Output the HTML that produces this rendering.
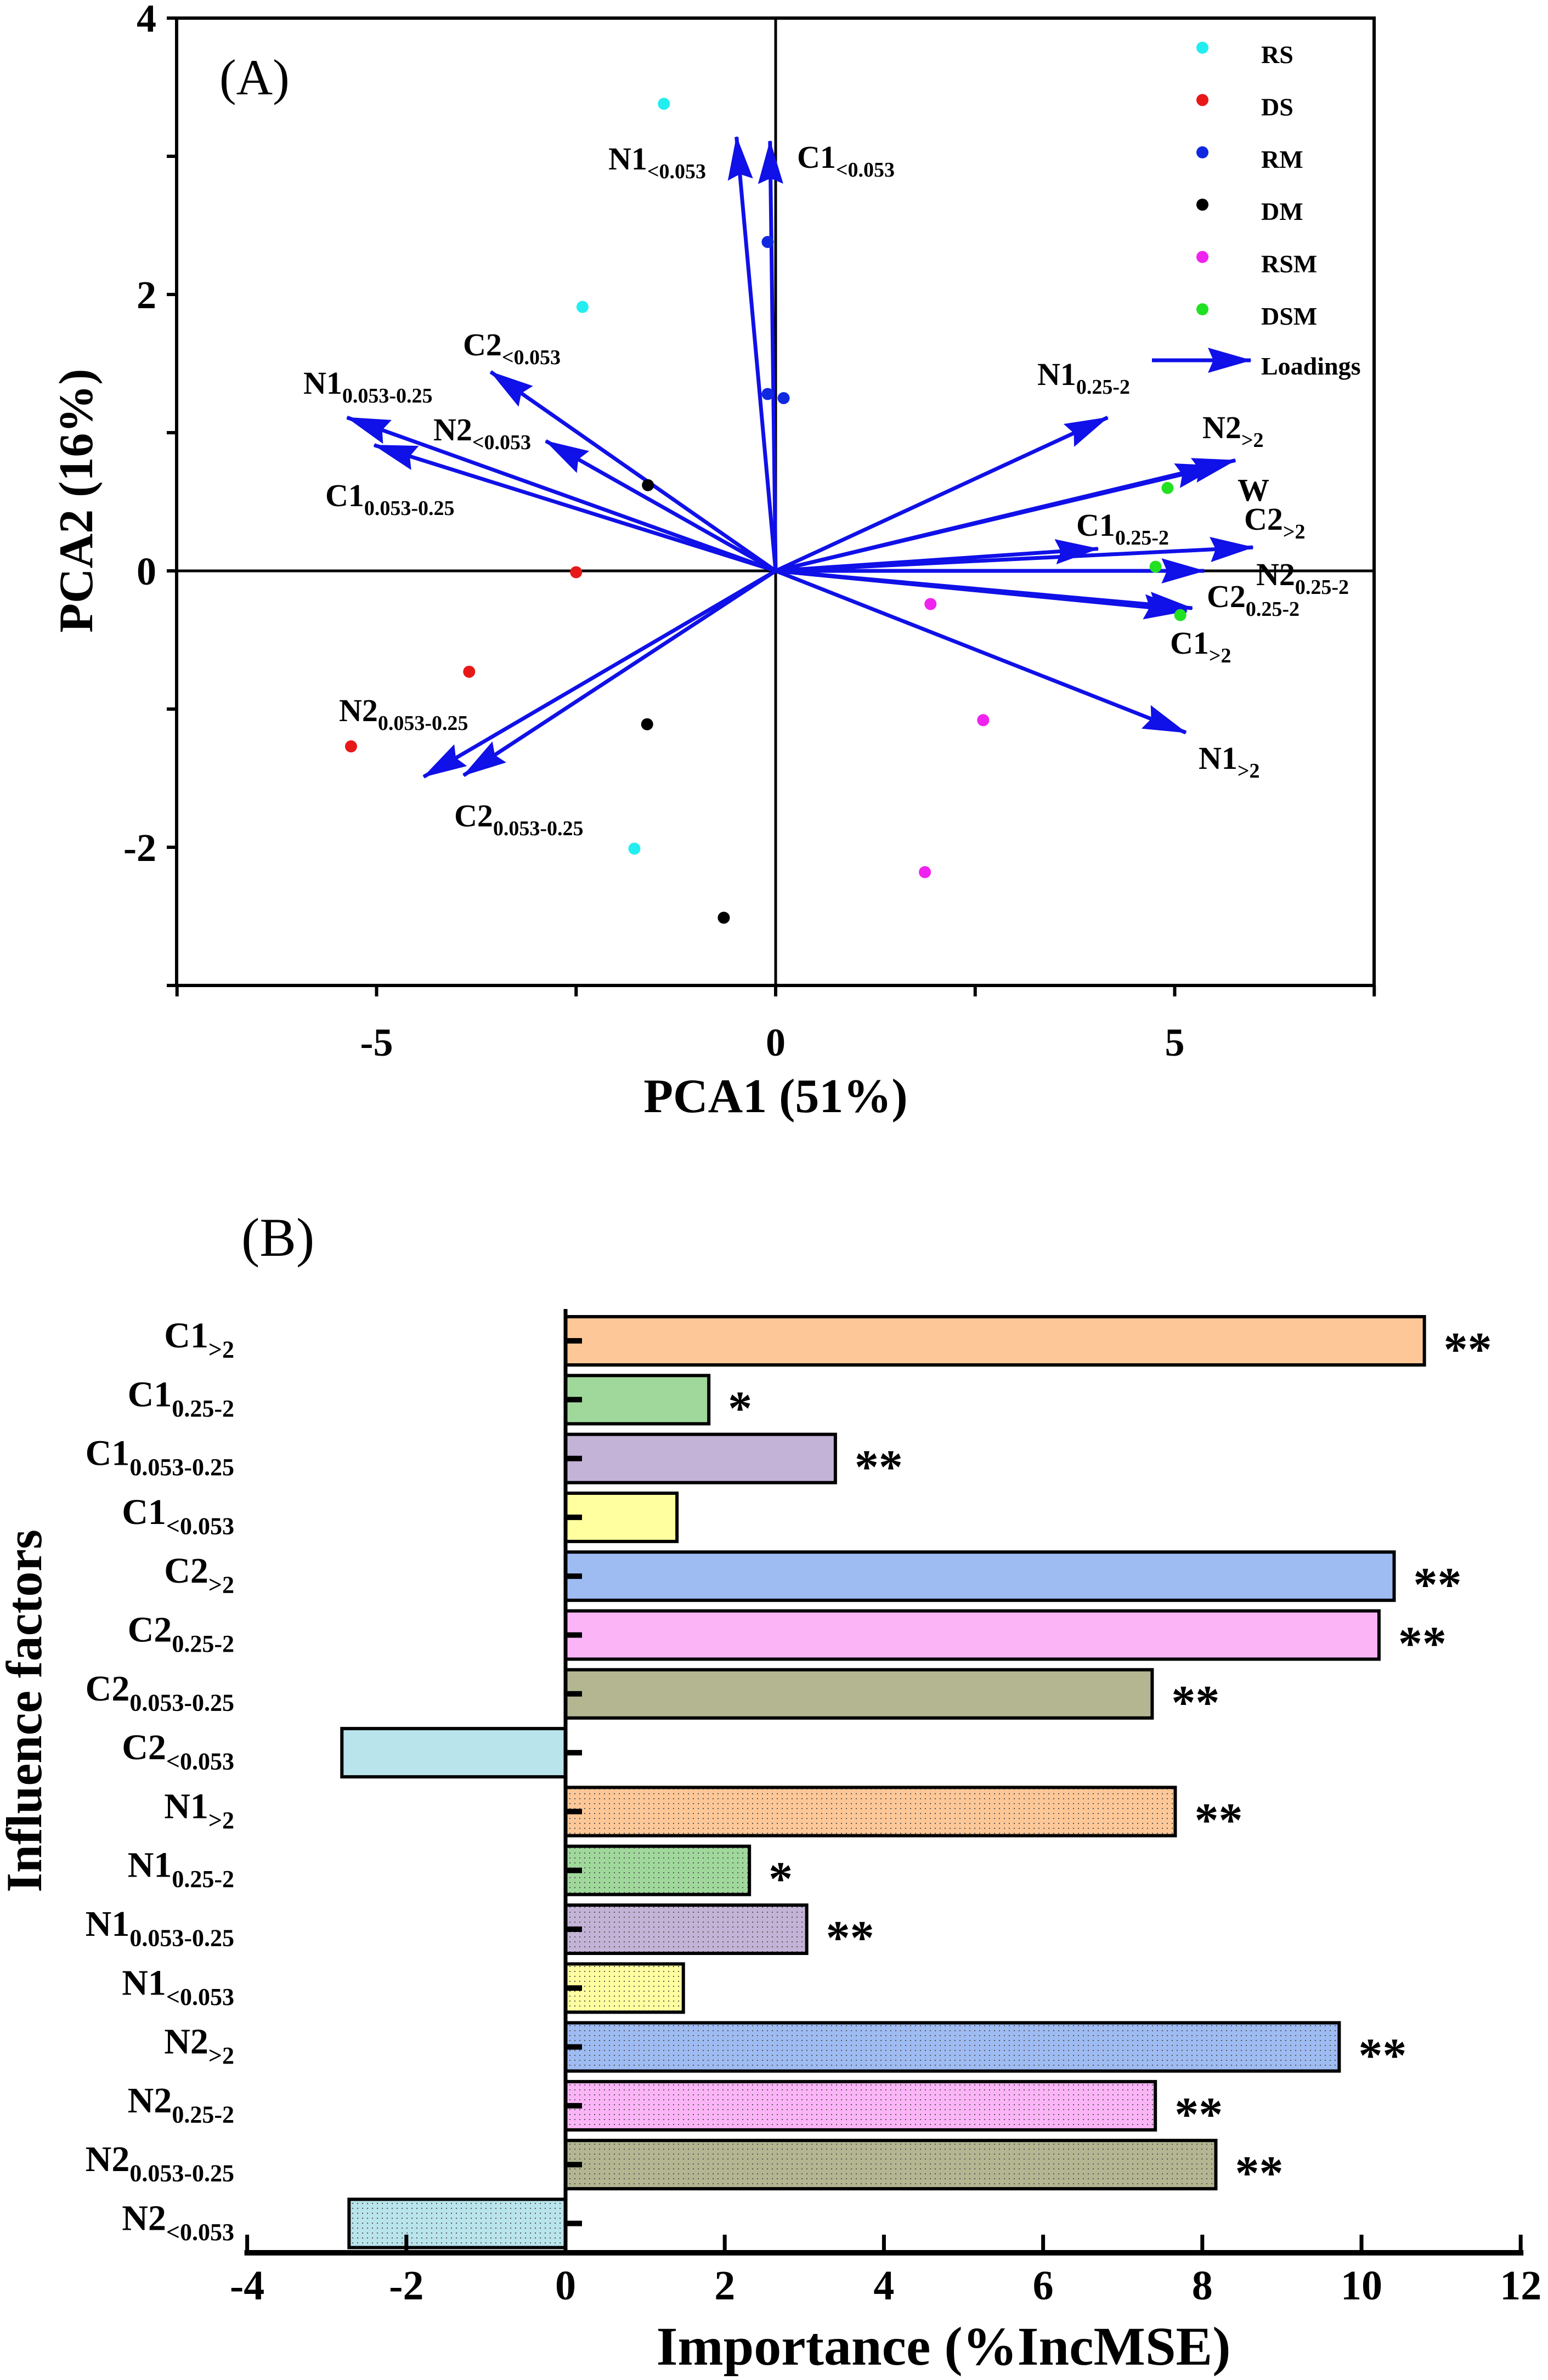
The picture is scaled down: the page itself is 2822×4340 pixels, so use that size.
<!DOCTYPE html>
<html><head><meta charset="utf-8"><style>
html,body{margin:0;padding:0;background:#fff;}
svg{display:block;font-family:"Liberation Serif",serif;}
</style></head><body>
<svg id="fig" width="2822" height="4340" viewBox="0 0 2822 4340" xmlns="http://www.w3.org/2000/svg">
<defs>
<marker id="ah" viewBox="0 0 80 46" refX="78" refY="23" markerWidth="80" markerHeight="46" markerUnits="userSpaceOnUse" orient="auto" style="overflow:visible">
<path d="M0,0 L80,23 L0,46 L10,23 z" fill="#1010E8"/>
</marker>
</defs>
<g id="chartA"></g>
<g id="chartB"></g>
</svg>
<script>
// ---------- Chart A data ----------
const groupNames = ["RS","DS","RM","DM","RSM","DSM"];
const groupColors = ["#22EEF0","#E81818","#1028E0","#000000","#F022F0","#22E022"];
const scoreX = [[-1.40,-2.42,-1.77],[-2.50,-3.84,-5.32],[-0.10,-0.10,0.10],[-1.60,-1.61,-0.65],[1.94,2.60,1.87],[4.91,4.76,5.07]];
const scoreY = [[3.38,1.91,-2.01],[-0.01,-0.73,-1.27],[2.38,1.28,1.25],[0.62,-1.11,-2.51],[-0.24,-1.08,-2.18],[0.60,0.03,-0.32]];
const loadingNames = ["N1<0.053","C1<0.053","C2<0.053","N1 0.053-0.25","C1 0.053-0.25","N2<0.053","N1 0.25-2","N2>2","W","C1 0.25-2","C2>2","N2 0.25-2","C2 0.25-2","C1>2","N1>2","N2 0.053-0.25","C2 0.053-0.25"];
const loadingX = [-0.49,-0.07,-3.57,-5.37,-5.03,-2.88,4.16,5.76,5.55,4.04,5.98,5.37,5.22,5.15,5.14,-4.41,-3.91];
const loadingY = [3.14,3.11,1.44,1.11,0.91,0.94,1.11,0.80,0.76,0.16,0.17,0.00,-0.27,-0.29,-1.17,-1.49,-1.48];
const aXTicks = [-5,0,5];
const aYTicks = [-2,0,2,4];

// ---------- Chart B data ----------
const factorMain = ["C1","C1","C1","C1","C2","C2","C2","C2","N1","N1","N1","N1","N2","N2","N2","N2"];
const factorSub = [">2","0.25-2","0.053-0.25","<0.053",">2","0.25-2","0.053-0.25","<0.053",">2","0.25-2","0.053-0.25","<0.053",">2","0.25-2","0.053-0.25","<0.053"];
const importance = [10.79,1.80,3.39,1.40,10.41,10.22,7.37,-2.81,7.66,2.31,3.03,1.48,9.72,7.41,8.17,-2.72];
const significance = ["**","*","**","","**","**","**","","**","*","**","","**","**","**",""];
const bXTicks = [-4,-2,0,2,4,6,8,10,12];

const NS="http://www.w3.org/2000/svg";
function mk(tag,attrs,parent){const e=document.createElementNS(NS,tag);for(const k in attrs)e.setAttribute(k,attrs[k]);parent.appendChild(e);return e;}
function subText(parent,x,y,main,sub,fs,ss,anchor){
  const t=mk("text",{x:x,y:y,"font-size":fs,"font-weight":"bold","text-anchor":anchor||"start"},parent);
  const a=mk("tspan",{},t);a.textContent=main;
  const b=mk("tspan",{"font-size":ss,dy:fs*0.28},t);b.textContent=sub;
  return t;
}

// ========== Chart A ==========
const A=document.getElementById("chartA");
const aL=322,aR=2505,aT=33,aB=1797;
const ax=v=>1414+v*145.5;
const ay=v=>1041-v*252;
let e;
e=mk("rect",{x:aL,y:aT,width:aR-aL,height:aB-aT,fill:"none",stroke:"#000","stroke-width":6},A);

e=mk("line",{x1:ax(0),y1:aT,x2:ax(0),y2:aB,stroke:"#000","stroke-width":5},A);

e=mk("line",{x1:aL,y1:ay(0),x2:aR,y2:ay(0),stroke:"#000","stroke-width":5},A);

for(let v=-7.5;v<=7.51;v+=2.5){
  e=mk("line",{x1:ax(v),y1:aB,x2:ax(v),y2:aB+20,stroke:"#000","stroke-width":6},A);
  
}
for(let v=-3;v<=4;v+=1){
  e=mk("line",{x1:aL-18,y1:ay(v),x2:aL,y2:ay(v),stroke:"#000","stroke-width":6},A);
  
}
aXTicks.forEach(v=>{e=mk("text",{x:ax(v),y:1925,"font-size":72,"font-weight":"bold","text-anchor":"middle"},A);e.textContent=String(v);
  });
aYTicks.forEach(v=>{e=mk("text",{x:285,y:ay(v)+25,"font-size":72,"font-weight":"bold","text-anchor":"end"},A);e.textContent=String(v);
  });
e=mk("text",{x:1414,y:2028,"font-size":88,"font-weight":"bold","text-anchor":"middle"},A);e.textContent="PCA1 (51%)";

e=mk("text",{x:0,y:0,"font-size":88,"font-weight":"bold","text-anchor":"middle",transform:"translate(168,913) rotate(-90)"},A);e.textContent="PCA2 (16%)";

e=mk("text",{x:400,y:172,"font-size":92},A);e.textContent="(A)";


// loadings
loadingNames.forEach((n,i)=>{
  e=mk("line",{x1:ax(0),y1:ay(0),x2:ax(loadingX[i]),y2:ay(loadingY[i]),stroke:"#1010E8","stroke-width":7,"marker-end":"url(#ah)"},A);
  
});
// scores
groupNames.forEach((g,gi)=>{
  scoreX[gi].forEach((x,j)=>{
    e=mk("circle",{cx:ax(x),cy:ay(scoreY[gi][j]),r:11,fill:groupColors[gi]},A);
    
  });
});
// loading labels
const aLabels=[["N1","<0.053",1109,309],["C1","<0.053",1453,306],["C2","<0.053",844,648],["N1","0.053-0.25",553,718],["N2","<0.053",790,803],["C1","0.053-0.25",593,923],["N1","0.25-2",1891,702],["N2",">2",2192,799],["W","",2256,913],["C2",">2",2268,966],["C1","0.25-2",1962,977],["N2","0.25-2",2290,1067],["C2","0.25-2",2200,1107],["C1",">2",2133,1192],["N1",">2",2185,1402],["N2","0.053-0.25",618,1315],["C2","0.053-0.25",828,1507]];
aLabels.forEach(l=>{e=subText(A,l[2],l[3],l[0],l[1],58,38);
  });
// legend
groupNames.forEach((g,i)=>{
  const y=87+i*95.4;
  e=mk("circle",{cx:2192,cy:y,r:11,fill:groupColors[i]},A);
  
  e=mk("text",{x:2299,y:y+28,"font-size":46,"font-weight":"bold"},A);e.textContent=g;
  
});
e=mk("line",{x1:2100,y1:657,x2:2280,y2:657,stroke:"#1010E8","stroke-width":7,"marker-end":"url(#ah)"},A);

e=mk("text",{x:2299,y:683,"font-size":46,"font-weight":"bold"},A);e.textContent="Loadings";


// ========== Chart B ==========
const B=document.getElementById("chartB");
const fillColors=["#FDC797","#A0D89C","#C3B3D6","#FFFFA0","#9EBBF2","#FBB5F7","#B3B691","#B9E4EC"];
const defs=document.querySelector("defs");
fillColors.forEach((c,i)=>{
  const p=mk("pattern",{id:"dot"+i,width:9,height:9,patternUnits:"userSpaceOnUse"},defs);
  mk("rect",{width:9,height:9,fill:c},p);
  mk("rect",{x:3,y:3,width:2,height:2,fill:"#555"},p);
});
const bx=v=>1031+v*145.1;
const by=i=>2445+i*107.3;
const bh=88;
importance.forEach((v,i)=>{
  const ci=i%8; const fill=i<8?fillColors[ci]:"url(#dot"+ci+")";
  const x0=Math.min(bx(0),bx(v)), w=Math.abs(bx(v)-bx(0));
  e=mk("rect",{x:x0,y:by(i)-bh/2,width:w,height:bh,fill:fill,stroke:"#000","stroke-width":6},B);
  
  e=mk("line",{x1:bx(0),y1:by(i),x2:bx(0)+30,y2:by(i),stroke:"#000","stroke-width":10},B);
  
  e=subText(B,427,by(i)+12,factorMain[i],factorSub[i],66,44,"end");
  
  if(significance[i]){
    e=mk("text",{x:bx(v)+35,y:by(i)+45,"font-size":88,"font-weight":"bold"},B);e.textContent=significance[i];
    
  }
});
e=mk("line",{x1:bx(0),y1:2387,x2:bx(0),y2:4108,stroke:"#000","stroke-width":7},B);

e=mk("line",{x1:bx(-4)-5,y1:4108,x2:bx(12)+5,y2:4108,stroke:"#000","stroke-width":10},B);

bXTicks.forEach(v=>{
  e=mk("line",{x1:bx(v),y1:4108,x2:bx(v),y2:4075,stroke:"#000","stroke-width":7},B);
  
  e=mk("text",{x:bx(v),y:4193,"font-size":76,"font-weight":"bold","text-anchor":"middle"},B);e.textContent=String(v);
  
});
e=mk("text",{x:1720,y:4312,"font-size":100,"font-weight":"bold","text-anchor":"middle"},B);e.textContent="Importance (%IncMSE)";

e=mk("text",{x:0,y:0,"font-size":92,"font-weight":"bold","text-anchor":"middle",transform:"translate(75,3120) rotate(-90)"},B);e.textContent="Influence factors";

e=mk("text",{x:440,y:2290,"font-size":100},B);e.textContent="(B)";

</script>
</body></html>
